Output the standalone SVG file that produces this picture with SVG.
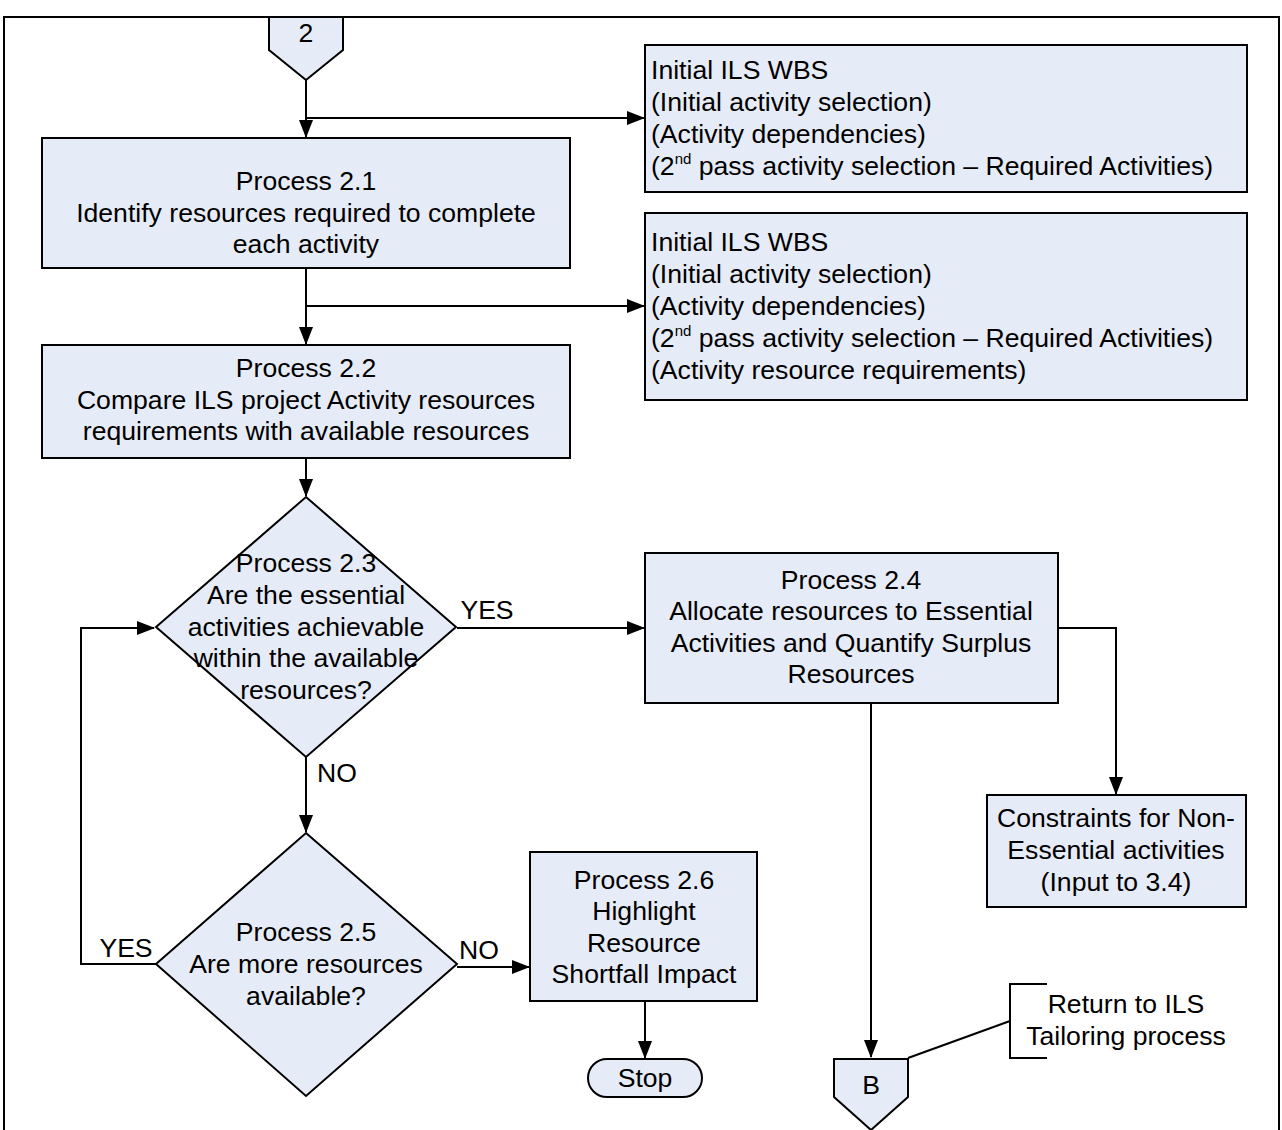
<svg xmlns="http://www.w3.org/2000/svg" width="1282" height="1130" viewBox="0 0 1282 1130">
<style>
.n{fill:#E6ECF7;stroke:#000;stroke-width:2}
.t{font-family:"Liberation Sans",Arial,sans-serif;font-size:26.6px;fill:#000}
.c{text-anchor:middle}
.e{fill:none;stroke:#000;stroke-width:2}
</style>
<defs>
<marker id="ah" markerUnits="userSpaceOnUse" markerWidth="18" markerHeight="14" refX="17" refY="7" orient="auto">
<path d="M0,0 L18,7 L0,14 z" fill="#000"/>
</marker>
</defs>
<rect x="4" y="17" width="1275" height="1130" fill="#fff" stroke="#000" stroke-width="2"/>
<g id="connectors">
<path class="e" d="M306,80 V137" marker-end="url(#ah)"/>
<path class="e" d="M306,118 H644" marker-end="url(#ah)"/>
<path class="e" d="M306,268 V344" marker-end="url(#ah)"/>
<path class="e" d="M306,306 H644" marker-end="url(#ah)"/>
<path class="e" d="M306,458 V496" marker-end="url(#ah)"/>
<path class="e" d="M457,628 H644" marker-end="url(#ah)"/>
<path class="e" d="M1058,628 H1116 V794" marker-end="url(#ah)"/>
<path class="e" d="M871,703 V1057" marker-end="url(#ah)"/>
<path class="e" d="M306,757 V832" marker-end="url(#ah)"/>
<path class="e" d="M156,964 H81 V628 H154" marker-end="url(#ah)"/>
<path class="e" d="M457,967 H529" marker-end="url(#ah)"/>
<path class="e" d="M645,1001 V1058" marker-end="url(#ah)"/>
<path class="e" d="M1010,1021 L908,1058"/>
<text class="t c" x="487" y="619">YES</text>
<text class="t c" x="337" y="782">NO</text>
<text class="t c" x="126" y="957">YES</text>
<text class="t c" x="479" y="959">NO</text>
</g>
<g id="n2">
<path class="n" d="M269,17 H343 V50 L306,80 L269,50 Z"/>
<text class="t c" x="306" y="42">2</text>
</g>
<g id="wbs1">
<rect class="n" x="645" y="45" width="602" height="147"/>
<text class="t" x="651" y="79">Initial ILS WBS</text>
<text class="t" x="651" y="111">(Initial activity selection)</text>
<text class="t" x="651" y="143">(Activity dependencies)</text>
<text class="t" x="651" y="175">(2<tspan font-size="15" dy="-11">nd</tspan><tspan dy="11"> pass activity selection – Required Activities)</tspan></text>
</g>
<g id="wbs2">
<rect class="n" x="645" y="213" width="602" height="187"/>
<text class="t" x="651" y="251">Initial ILS WBS</text>
<text class="t" x="651" y="283">(Initial activity selection)</text>
<text class="t" x="651" y="315">(Activity dependencies)</text>
<text class="t" x="651" y="347">(2<tspan font-size="15" dy="-11">nd</tspan><tspan dy="11"> pass activity selection – Required Activities)</tspan></text>
<text class="t" x="651" y="379">(Activity resource requirements)</text>
</g>
<g id="p21">
<rect class="n" x="42" y="138" width="528" height="130"/>
<text class="t c" x="306" y="190">Process 2.1</text>
<text class="t c" x="306" y="222">Identify resources required to complete</text>
<text class="t c" x="306" y="253">each activity</text>
</g>
<g id="p22">
<rect class="n" x="42" y="345" width="528" height="113"/>
<text class="t c" x="306" y="377">Process 2.2</text>
<text class="t c" x="306" y="409">Compare ILS project Activity resources</text>
<text class="t c" x="306" y="440">requirements with available resources</text>
</g>
<g id="p23">
<path class="n" d="M306,497 L456,627 L306,757 L156,627 Z"/>
<text class="t c" x="306" y="572">Process 2.3</text>
<text class="t c" x="306" y="604">Are the essential</text>
<text class="t c" x="306" y="636">activities achievable</text>
<text class="t c" x="306" y="667">within the available</text>
<text class="t c" x="306" y="699">resources?</text>
</g>
<g id="p24">
<rect class="n" x="645" y="553" width="413" height="150"/>
<text class="t c" x="851" y="589">Process 2.4</text>
<text class="t c" x="851" y="620">Allocate resources to Essential</text>
<text class="t c" x="851" y="652">Activities and Quantify Surplus</text>
<text class="t c" x="851" y="683">Resources</text>
</g>
<g id="constraints">
<rect class="n" x="987" y="795" width="259" height="112"/>
<text class="t c" x="1116" y="827">Constraints for Non-</text>
<text class="t c" x="1116" y="859">Essential activities</text>
<text class="t c" x="1116" y="891">(Input to 3.4)</text>
</g>
<g id="p25">
<path class="n" d="M306,833 L457,964 L306,1096 L156,964 Z"/>
<text class="t c" x="306" y="941">Process 2.5</text>
<text class="t c" x="306" y="973">Are more resources</text>
<text class="t c" x="306" y="1005">available?</text>
</g>
<g id="p26">
<rect class="n" x="530" y="852" width="227" height="149"/>
<text class="t c" x="644" y="889">Process 2.6</text>
<text class="t c" x="644" y="920">Highlight</text>
<text class="t c" x="644" y="952">Resource</text>
<text class="t c" x="644" y="983">Shortfall Impact</text>
</g>
<g id="stop">
<rect class="n" x="588" y="1059" width="114" height="38" rx="19" ry="19"/>
<text class="t c" x="645" y="1087">Stop</text>
</g>
<g id="nB">
<path class="n" d="M834,1059 H908 V1097 L871,1130 L834,1097 Z"/>
<text class="t c" x="871" y="1094">B</text>
</g>
<g id="note">
<path class="e" d="M1047,984 H1010 V1058 H1047"/>
<text class="t c" x="1126" y="1013">Return to ILS</text>
<text class="t c" x="1126" y="1045">Tailoring process</text>
</g>
</svg>
